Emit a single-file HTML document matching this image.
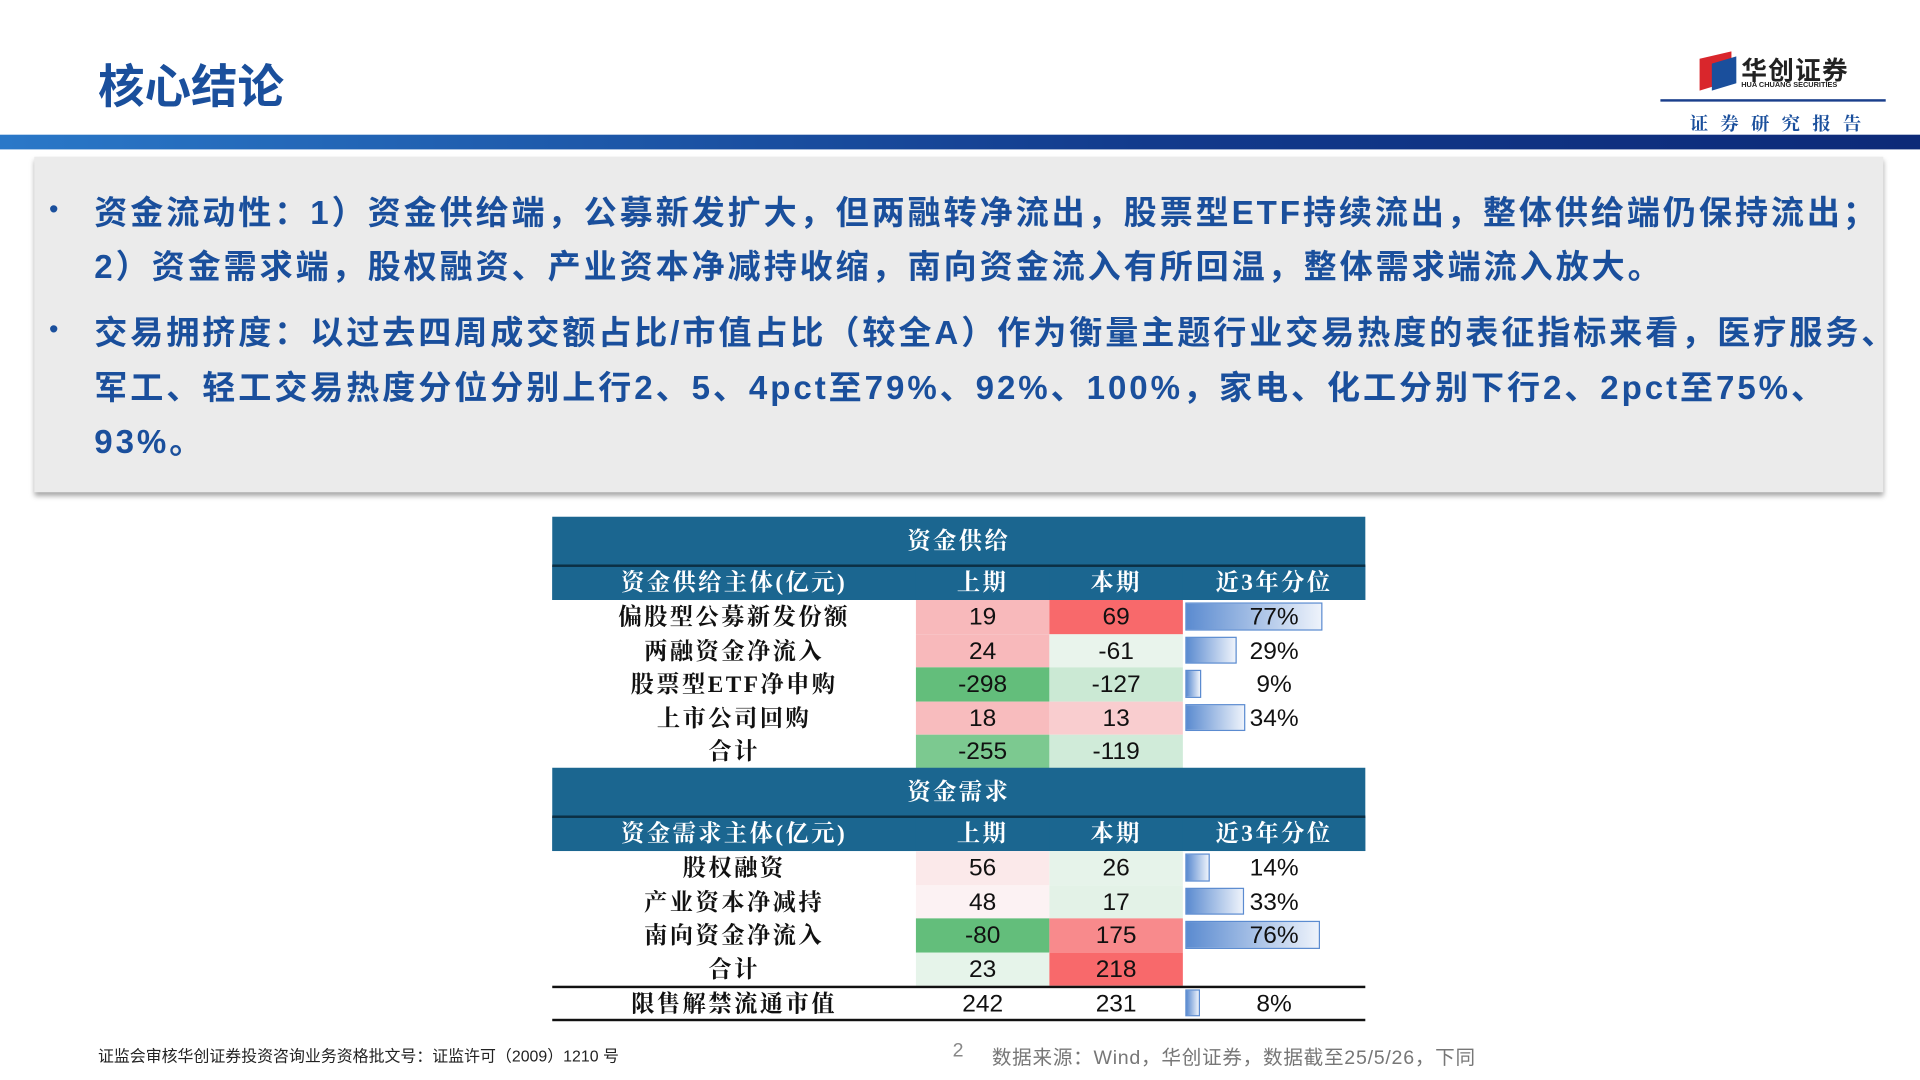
<!DOCTYPE html>
<html><head><meta charset="utf-8">
<style>
html,body{margin:0;padding:0;width:1920px;height:1080px;overflow:hidden;background:#fff}
#s{position:absolute;left:0;top:0;width:1568px;height:882px;transform:scale(1.22449);transform-origin:0 0;font-family:"Liberation Sans","Noto Sans CJK SC",sans-serif}
.a{position:absolute}
.b{position:absolute;left:77px;font-size:27px;font-weight:bold;color:#1a4f9c;white-space:nowrap;letter-spacing:2.4px}
.dot{position:absolute;left:40px;font-size:22px;color:#1a4f9c}
.cell{position:absolute;text-align:center;font-size:20px;color:#111;box-sizing:border-box}
.cn{font-family:"Liberation Serif","Noto Serif CJK SC",serif;font-size:19px;letter-spacing:2px;font-weight:bold}
.hd{background:#1b6690;color:#fff}
</style></head><body>
<div id="s">
<div class="a" style="left:80px;top:40px;font-size:38px;font-weight:bold;color:#1a4f9c">核心结论</div>
<div class="a" style="left:1384px;top:42px;width:160px;height:36px">
 <svg width="36" height="34" style="position:absolute;left:0;top:0"><polygon points="4,6 30,0 30,24 4,32" fill="#d9262c"/><polygon points="14,10 34,4 34,26 14,32" fill="#1a4f9c"/></svg>
 <div class="a" style="left:38px;top:0;font-size:21px;font-weight:bold;color:#222;white-space:nowrap;letter-spacing:1px">华创证券</div>
 <div class="a" style="left:38px;top:25px;font-size:6px;font-weight:bold;color:#222;white-space:nowrap">HUA CHUANG SECURITIES</div>
</div>
<div class="a" style="left:1356px;top:81px;width:184px;height:2px;background:#1a3f8c"></div>
<div class="a" style="left:1380px;top:90px;font-size:15px;font-weight:bold;color:#1a4f9c;letter-spacing:10px;font-family:'Liberation Serif','Noto Serif CJK SC',serif">证券研究报告</div>
<div class="a" style="left:0;top:110px;width:1568px;height:12px;background:linear-gradient(90deg,#2a78c8,#123a8c 60%,#0d2a78)"></div>
<div class="a" style="left:28px;top:128px;width:1510px;height:274px;background:#ebebeb;box-shadow:0 3px 4px rgba(0,0,0,0.35)"></div>
<div class="dot" style="top:158px">•</div>
<div class="b" style="top:152px">资金流动性：1）资金供给端，公募新发扩大，但两融转净流出，股票型ETF持续流出，整体供给端仍保持流出；</div>
<div class="b" style="top:196px">2）资金需求端，股权融资、产业资本净减持收缩，南向资金流入有所回温，整体需求端流入放大。</div>
<div class="dot" style="top:256px">•</div>
<div class="b" style="top:250px">交易拥挤度：以过去四周成交额占比/市值占比（较全A）作为衡量主题行业交易热度的表征指标来看，医疗服务、</div>
<div class="b" style="top:295px">军工、轻工交易热度分位分别上行2、5、4pct至79%、92%、100%，家电、化工分别下行2、2pct至75%、</div>
<div class="b" style="top:339px">93%。</div>
<div class="a" id="tbl" style="left:0;top:0"></div>
<div class="a" style="left:80px;top:852px;font-size:13px;color:#222">证监会审核华创证券投资咨询业务资格批文号：证监许可（2009）1210 号</div>
<div class="a" style="left:778px;top:850px;font-size:16px;color:#888">2</div>
<div class="a" style="left:810px;top:850px;font-size:16px;color:#777;letter-spacing:0.6px">数据来源：Wind，华创证券，数据截至25/5/26，下同</div>
</div>
<script>
const supplyLabels=["偏股型公募新发份额","两融资金净流入","股票型ETF净申购","上市公司回购","合计"];
const supplyPrev=[19,24,-298,18,-255];
const supplyCur=[69,-61,-127,13,-119];
const supplyPct=[77,29,9,34,null];
const demandLabels=["股权融资","产业资本净减持","南向资金净流入","合计"];
const demandPrev=[56,48,-80,23];
const demandCur=[26,17,175,218];
const demandPct=[14,33,76,null];
const unlockLabel="限售解禁流通市值";
const unlockPrev=242, unlockCur=231, unlockPct=8;
const supplyPrevColors=["#f8b9bb","#f8b9bb","#63be7b","#f8bcbe","#7cc990"];
const supplyCurColors=["#f8696b","#e9f4ec","#cbe9d4","#f9cdcf","#d0ebd9"];
const demandPrevColors=["#fbe9ea","#fcf2f3","#63be7b","#e6f4ea"];
const demandCurColors=["#e6f3ea","#e3f2e7","#f88a8c","#f8696b"];

const T=document.getElementById('tbl');
const X0=451,X1=748,X2=857,X3=966,X4=1115;
const pctX=v=>X3+2+v*1.45;
function box(x,y,w,h,cls,txt,bg,name){
 const d=document.createElement('div');
 d.className='cell '+(cls||'');
 d.style.left=x+'px';d.style.top=y+'px';d.style.width=w+'px';d.style.height=h+'px';d.style.lineHeight=(h+2)+'px';
 if(bg)d.style.background=bg;
 d.textContent=txt;
 
 
 T.appendChild(d);return d;
}
function bar(v,y,h,name){
 if(v==null)return;
 const d=document.createElement('div');
 d.className='a';
 d.style.left=(X3+2)+'px';d.style.top=(y+2)+'px';d.style.height=(h-5)+'px';
 d.style.width=(pctX(v)-X3-2)+'px';
 d.style.background='linear-gradient(90deg,#5b8bd0,#eef3fb)';d.style.border='1px solid #5b8bd0';d.style.boxSizing='border-box';
 
 
 T.appendChild(d);
 box(X3,y,X4-X3,h,'',v+'%',null,name+'-label');
}
function header(y,title,sub){
 box(X0,y,X4-X0,40,'hd cn',title,null,'section-title');
 box(X0,y+40,X4-X0,28,'hd',"",null,'header-row');
 box(X0,y+40,X1-X0,28,'hd cn',sub,null,'header-entity');
 box(X1,y+40,X2-X1,28,'hd cn','上期',null,'header-prev');
 box(X2,y+40,X3-X2,28,'hd cn','本期',null,'header-cur');
 box(X3,y+40,X4-X3,28,'hd cn','近3年分位',null,'header-pct');
 const l=document.createElement('div');l.className='a';l.style.cssText=`left:${X0}px;top:${y+39}px;width:${X4-X0}px;height:2px;background:#0b2f44`;
 
 
 T.appendChild(l);
}
function rows(y0,labels,prev,cur,pct,pc,cc,pre){
 labels.forEach((lab,i)=>{
  const y=y0+i*27.5,h=27.5;
  box(X0,y,X1-X0,h,'cn',lab,null,pre+'-label-'+i);
  box(X1,y,X2-X1,h,'',String(prev[i]),pc[i],pre+'-prev-'+i);
  box(X2,y,X3-X2,h,'',String(cur[i]),cc[i],pre+'-cur-'+i);
  bar(pct[i],y,h,pre+'-pct-bar-'+i);
 });
}
header(422,'资金供给','资金供给主体(亿元)');
rows(490,supplyLabels,supplyPrev,supplyCur,supplyPct,supplyPrevColors,supplyCurColors,'supply');
header(627,'资金需求','资金需求主体(亿元)');
rows(695,demandLabels,demandPrev,demandCur,demandPct,demandPrevColors,demandCurColors,'demand');
box(X0,806,X1-X0,27,'cn',unlockLabel,null,'unlock-label');
box(X1,806,X2-X1,27,'',String(unlockPrev),null,'unlock-prev');
box(X2,806,X3-X2,27,'',String(unlockCur),null,'unlock-cur');
bar(unlockPct,806,27,'unlock-pct-bar');
[805,832].forEach((y,i)=>{const l=document.createElement('div');l.className='a';l.style.cssText=`left:${X0}px;top:${y}px;width:${X4-X0}px;height:2px;background:#111`;
 
 
 T.appendChild(l);});
</script>
</body></html>
